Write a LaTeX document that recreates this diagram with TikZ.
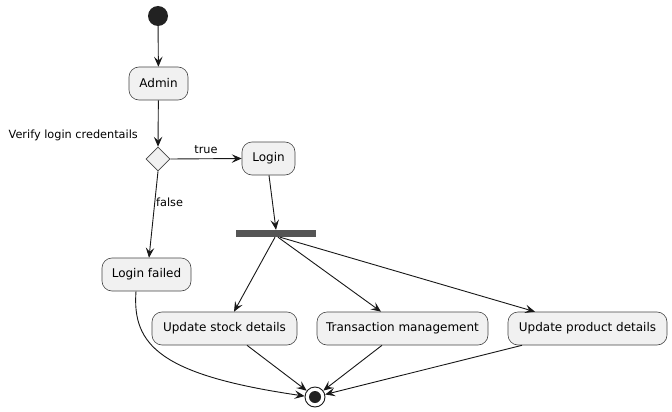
\documentclass[tikz,border=0pt]{standalone}
\usepackage{fontspec}
\setmainfont{DejaVu Sans}
\usetikzlibrary{shapes.geometric,arrows.meta}
\definecolor{boxfill}{HTML}{F1F1F1}
\definecolor{linec}{HTML}{181818}
\definecolor{barc}{HTML}{555555}
\definecolor{dotc}{HTML}{222222}
\tikzset{
  actbox/.style={draw=linec!80, line width=0.6pt, fill=boxfill, rounded corners=10pt,
    minimum height=33pt, inner sep=0pt, font=\fontsize{12}{14}\selectfont},
  conn/.style={draw=linec, line width=0.9pt, -{Stealth[length=10pt,width=8.5pt,inset=4pt]}},
  lbl/.style={font=\fontsize{11.3}{13}\selectfont, inner sep=0pt},
}
\begin{document}
\begin{tikzpicture}[x=1pt,y=-1pt]
\useasboundingbox (0,0) rectangle (672,412);
\fill[white] (0,0) rectangle (672,412);
% start
\node[circle, fill=dotc, minimum size=20pt, inner sep=0pt] (start) at (158,16) {};
\node[actbox, minimum width=59pt] (admin) at (158.5,83.5) {Admin};
\node[diamond, draw=linec!80, line width=0.6pt, fill=boxfill, minimum width=24pt, minimum height=24pt, inner sep=0pt] (dec) at (158,159) {};
\node[lbl, anchor=base east] (vlab) at (138,138.5) {Verify login credentails};
\node[actbox, minimum width=53pt] (login) at (268.5,158.5) {Login};
\node[actbox, minimum width=89pt] (failed) at (146.5,274.5) {Login failed};
\node[fill=barc, minimum width=80pt, minimum height=7pt, inner sep=0pt] (bar) at (276,233.5) {};
\node[actbox, minimum width=145pt] (stock) at (224.5,328.5) {Update stock details};
\node[actbox, minimum width=171pt] (trans) at (402.5,328.5) {Transaction management};
\node[actbox, minimum width=159pt] (prod) at (587.5,328.5) {Update product details};
\node[circle, draw=linec, line width=0.9pt, fill=white, minimum size=20pt, inner sep=0pt] (end) at (315,397) {};
\fill[dotc] (end.center) circle (6pt);
% connectors
\draw[conn] (start) -- (admin);
\draw[conn] (admin) -- (dec.north);
\draw[conn] (dec.east) -- node[lbl, above=5pt] (tlab) {true} (login.west);
\draw[conn] (dec.south) -- ([xshift=2.5pt]failed.north);
\node[lbl, anchor=base west] (flab) at (156,206.5) {false};
\draw[conn] ([xshift=0.5pt]login.south) -- (bar.north);
\draw[conn] ([xshift=-1pt]bar.south) -- ([xshift=9.5pt]stock.north);
\draw[conn] ([xshift=2pt]bar.south) -- ([xshift=-21.5pt]trans.north);
\draw[conn] ([xshift=4pt]bar.south) -- ([xshift=-52.5pt]prod.north);
\draw[conn] ([xshift=-10.5pt]failed.south) .. controls (132,345) and (160,375) .. (end.175);
\draw[conn] ([xshift=22.5pt]stock.south) -- (end);
\draw[conn] ([xshift=-20.5pt]trans.south) -- (end);
\draw[conn] ([xshift=-65.5pt]prod.south) -- (end);
\end{tikzpicture}
\end{document}
